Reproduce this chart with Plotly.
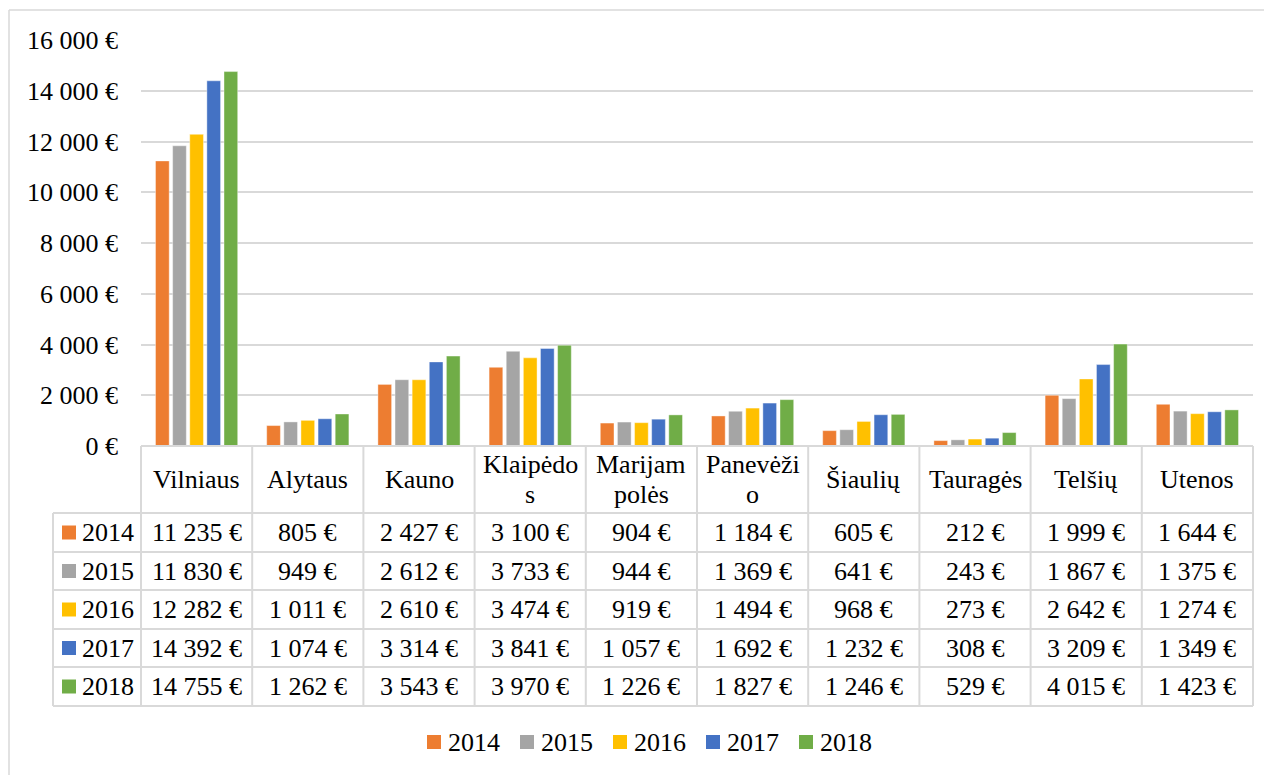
import plotly.graph_objects as go

regions = ["Vilniaus", "Alytaus", "Kauno", "Klaipėdos", "Marijampolės",
           "Panevėžio", "Šiaulių", "Tauragės", "Telšių", "Utenos"]
# header text as wrapped in the data table
header_lines = [["Vilniaus"], ["Alytaus"], ["Kauno"], ["Klaipėdo", "s"], ["Marijam", "polės"],
                ["Panevėži", "o"], ["Šiaulių"], ["Tauragės"], ["Telšių"], ["Utenos"]]
years = ["2014", "2015", "2016", "2017", "2018"]
v2014 = [11235, 805, 2427, 3100, 904, 1184, 605, 212, 1999, 1644]
v2015 = [11830, 949, 2612, 3733, 944, 1369, 641, 243, 1867, 1375]
v2016 = [12282, 1011, 2610, 3474, 919, 1494, 968, 273, 2642, 1274]
v2017 = [14392, 1074, 3314, 3841, 1057, 1692, 1232, 308, 3209, 1349]
v2018 = [14755, 1262, 3543, 3970, 1226, 1827, 1246, 529, 4015, 1423]
series = [v2014, v2015, v2016, v2017, v2018]
colors = ["#ED7D31", "#A5A5A5", "#FFC000", "#4472C4", "#70AD47"]

FONT = "Times New Roman, Liberation Serif, DejaVu Serif, serif"
FS = 26
GRID = "#d9d9d9"

# page has an 8px body margin, so the figure starts at (8, 8) on screen
OFF = 8
W, H = 1272 - OFF, 775 - OFF
# screen-pixel geometry of the plot area
L, R, T, B = 141, 1253, 40, 446
rows_y = [446, 513, 552, 590, 629, 667, 706]
left_col = 53


def px(x):
    return (x - L) / (R - L)


def py(y):
    return (B - y) / (B - T)


def eur(v):
    return f"{v:,}".replace(",", " ") + " €"


fig = go.Figure()
for name, vals, c in zip(years, series, colors):
    fig.add_bar(x=regions, y=vals, name=name, marker_color=c,
                marker_line=dict(width=0.8, color="rgba(255,255,255,0.5)"), showlegend=False)

shapes = []
annos = []


def line(x0, y0, x1, y1, color=GRID, w=2):
    shapes.append(dict(type="line", xref="paper", yref="paper", x0=px(x0), y0=py(y0),
                       x1=px(x1), y1=py(y1), line=dict(color=color, width=w)))


# outer chart frame
line(9, 10, 1272, 10, "#d9d9d9", 1.5)
line(9, 10, 9, 775, "#d9d9d9", 1.5)

# data table grid
line(L, rows_y[0], R, rows_y[0])
for y in rows_y[1:]:
    line(left_col, y, R, y)
n = len(regions)
colw = (R - L) / n
for k in range(n + 1):
    line(L + k * colw, rows_y[0], L + k * colw, rows_y[-1])
line(left_col, rows_y[1], left_col, rows_y[-1])

# header row
hy = (rows_y[0] + rows_y[1]) / 2
for i, lines_ in enumerate(header_lines):
    cx = L + (i + 0.5) * colw
    if len(lines_) == 1:
        ys = [hy]
    else:
        ys = [hy - 15, hy + 15]
    for t, y in zip(lines_, ys):
        annos.append(dict(x=px(cx), y=py(y), xref="paper", yref="paper", text=t,
                          showarrow=False, xanchor="center", yanchor="middle",
                          font=dict(family=FONT, size=FS, color="black")))

# value rows
for r, (name, vals, c) in enumerate(zip(years, series, colors)):
    cy = (rows_y[r + 1] + rows_y[r + 2]) / 2
    shapes.append(dict(type="rect", xref="paper", yref="paper", x0=px(62), x1=px(76),
                       y0=py(cy - 7), y1=py(cy + 7), fillcolor=c, line=dict(width=0)))
    annos.append(dict(x=px(80), y=py(cy), xref="paper", yref="paper", text=name,
                      showarrow=False, xanchor="left", yanchor="middle",
                      font=dict(family=FONT, size=FS, color="black")))
    for i, v in enumerate(vals):
        annos.append(dict(x=px(L + (i + 0.5) * colw), y=py(cy), xref="paper", yref="paper",
                          text=eur(v), showarrow=False, xanchor="center", yanchor="middle",
                          font=dict(family=FONT, size=FS, color="black")))

# legend below the table
for j, (name, c) in enumerate(zip(years, colors)):
    x0 = 427 + j * 93
    shapes.append(dict(type="rect", xref="paper", yref="paper", x0=px(x0), x1=px(x0 + 14),
                       y0=py(749), y1=py(735), fillcolor=c, line=dict(width=0)))
    annos.append(dict(x=px(x0 + 19), y=py(742), xref="paper", yref="paper", text=name,
                      showarrow=False, xanchor="left", yanchor="middle",
                      font=dict(family=FONT, size=FS, color="black")))

fig.update_layout(
    width=W, height=H,
    margin=dict(l=L - OFF, r=1272 - R, t=T - OFF, b=775 - B, pad=0),
    paper_bgcolor="white", plot_bgcolor="white",
    barmode="group", bargap=0.23, bargroupgap=0.2,
    separators=", ",
    font=dict(family=FONT, size=FS, color="black"),
    shapes=shapes, annotations=annos,
)
fig.update_xaxes(showticklabels=False, showgrid=False, zeroline=False, showline=False, ticks="")
fig.update_yaxes(range=[0, 16000], dtick=2000, tickformat=",d", ticksuffix=" €",
                 showgrid=True, gridcolor=GRID, gridwidth=1.5, zeroline=False, showline=False,
                 ticks="", ticklabelstandoff=22, tickfont=dict(family=FONT, size=FS, color="black"))

fig.write_html("out.html")
